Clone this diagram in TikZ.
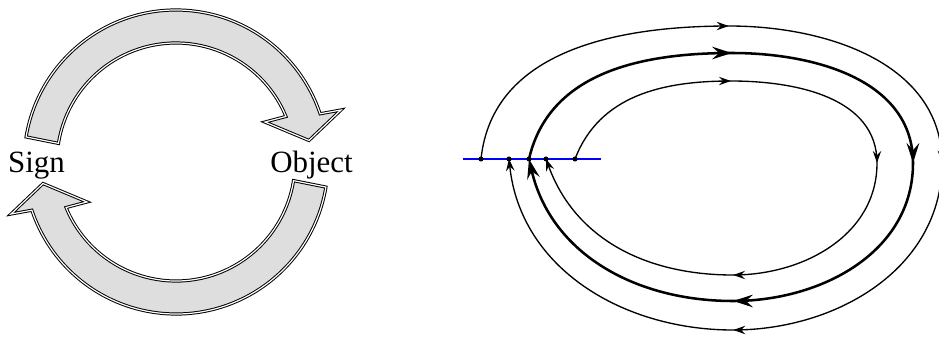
\documentclass[tikz,border=0pt]{standalone}
\usepackage{fontspec}
\setmainfont{Liberation Serif}
\usetikzlibrary{arrows.meta, decorations.markings}

\tikzset{
  thinhead/.tip={Stealth[length=8.5pt, width=6pt, inset=3pt]},
  thickhead/.tip={Stealth[length=14pt, width=9pt, inset=5pt]},
  marked/.style={decoration={markings, mark=at position 0.999 with {\arrow{#1}}},
    postaction=decorate}
}

\begin{document}
\begin{tikzpicture}[x=0.025cm, y=0.025cm,
    band/.style={fill=black!13, draw=black, double=white, double distance=0.85pt,
      line width=0.7pt},
    lbl/.style={font=\fontsize{22}{26}\selectfont, inner sep=0pt, anchor=base},
    section/.style={blue, line width=1pt},
    dot/.style={circle, fill=black, inner sep=0pt, minimum size=3.6pt},
    orbit/.style={line width=0.95pt},
    limit/.style={line width=1.8pt}]
  \useasboundingbox (0,0) rectangle (939,-336);
  \clip (0,0) rectangle (939,-336);
  % sign <-> object cycle
  \foreach \r in {0,180}
    \draw[band, shift={(176,-162)}, rotate=\r] (170.5:152)
      arc[start angle=170.5, end angle=18.5, radius=152] -- (17.5:173)
      -- (9.2:134.7) -- (24.2:97.5) -- (22.5:119)
      arc[start angle=22.5, end angle=171, radius=119] -- cycle;
  \node[lbl] (sign) at (36.5,-172) {Sign};
  \node[lbl] (object) at (311.5,-172) {Object};
  % section line and return points
  \coordinate (secL) at (463,-159);
  \coordinate (secR) at (601,-159);
  \draw[section] (secL) -- (secR);
  \foreach \n/\x in {1/481,2/509,3/529,4/546,5/575}
    \coordinate (p\n) at (\x,-159);
  % orbits
  \foreach \s/\tx/\ty/\rx/\bx/\by/\e/\o/\i/\sty/\hd in {
      p1/729/-26/942/733/-330/p2/84/-84/orbit/thinhead,
      p3/732/-53/913/733/-301/p3/77/-77/limit/thickhead,
      p5/731/-81/877/733/-275/p4/69/-70/orbit/thinhead} {
    \coordinate (top) at (\tx,\ty);
    \coordinate (rgt) at (\rx,-163);
    \coordinate (bot) at (\bx,\by);
    \draw[\sty, -\hd] (\s) to[out=\o, in=180] (top) to[out=0, in=90] (rgt)
      to[out=-90, in=0] (bot) to[out=180, in=\i] (\e);
    \foreach \pa/\pb/\oa/\ob in {\s/top/\o/180, top/rgt/0/90, rgt/bot/-90/0}
      \path[\sty, marked=\hd] (\pa) to[out=\oa, in=\ob] (\pb);
  }
  \foreach \n in {1,...,5}
    \node[dot] (d\n) at (p\n) {};
\end{tikzpicture}
\end{document}
